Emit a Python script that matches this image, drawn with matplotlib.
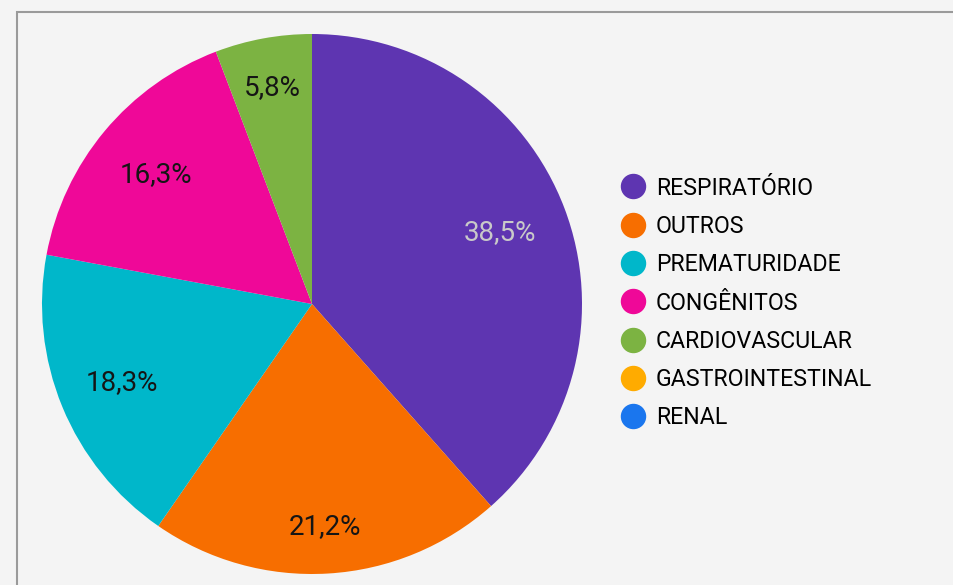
import matplotlib
matplotlib.use('Agg')
import numpy as np
import matplotlib.pyplot as plt
from matplotlib.lines import Line2D
from matplotlib.patches import Rectangle

# data
categories = ['RESPIRATÓRIO', 'OUTROS', 'PREMATURIDADE', 'CONGÊNITOS',
              'CARDIOVASCULAR', 'GASTROINTESTINAL', 'RENAL']
values = [38.5, 21.2, 18.3, 16.3, 5.8, 0.0, 0.0]
colors = ['#5e35b1', '#f76e00', '#00b7ca', '#ef0898', '#7cb342', '#ffab00', '#1a76ee']
# how far out each percentage label sits (fraction of radius)
label_dist = [0.745, 0.825, 0.76, 0.75, 0.815, 0.8, 0.8]

plt.rcParams['font.family'] = ['Roboto', 'DejaVu Sans']
bg = '#f4f4f4'

fig = plt.figure(figsize=(9.54, 5.85), dpi=100, facecolor=bg)

# outer border (only top and left visible)
fig.add_artist(Rectangle((17 / 954, -0.2), 1.2, (585 - 12) / 585 + 0.2,
                         transform=fig.transFigure, fill=False,
                         edgecolor='#9a9a9a', linewidth=1.5))

ax = fig.add_axes([42 / 954, 11 / 585, 540 / 954, 540 / 585])
ax.set_facecolor(bg)


def fmt(p):
    if p < 0.05:
        return ''
    return f'{p:.1f}%'.replace('.', ',')


wedges, texts, autotexts = ax.pie(values, colors=colors, startangle=90,
                                  counterclock=False, radius=1,
                                  autopct=fmt, pctdistance=0.78,
                                  textprops={'fontsize': 20, 'color': '#151515'})
for w, t, d in zip(wedges, autotexts, label_dist):
    mid = np.deg2rad((w.theta1 + w.theta2) / 2)
    t.set_position((d * np.cos(mid), d * np.sin(mid)))
autotexts[0].set_color('#c9c9c9')
ax.set_xlim(-1, 1)
ax.set_ylim(-1, 1)
ax.set_aspect('equal')
ax.axis('off')

handles = [Line2D([], [], linestyle='none', marker='o', markersize=17.3,
                  markerfacecolor=c, markeredgecolor=c) for c in colors]
fig.legend(handles, categories, loc='center left',
           bbox_to_anchor=(620.5 / 954, (585 - 303) / 585),
           frameon=False, fontsize=16.7, handlelength=1.1, handletextpad=0.42,
           labelspacing=0.66, borderpad=0, borderaxespad=0)

fig.savefig('out.png', dpi=100, facecolor=bg)
